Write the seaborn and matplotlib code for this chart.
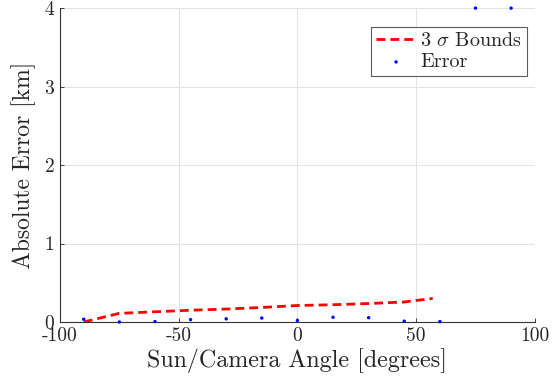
import numpy as np
import pandas as pd
import matplotlib
matplotlib.use("Agg")
import matplotlib.pyplot as plt
import seaborn as sns

# Sun/camera angle sweep and results
bound_angles = [-90, -75, -60, -45, -30, -15, 0, 15, 30, 45, 57]
bound_km = [0.0, 0.11, 0.13, 0.15, 0.165, 0.185, 0.21, 0.22, 0.235, 0.255, 0.30]

error_angles = [-90, -75, -60, -45, -30, -15, 0, 15, 30, 45, 60, 75, 90]
error_km = [0.035, 0.0, 0.005, 0.03, 0.04, 0.05, 0.02, 0.06, 0.055, 0.01, 0.005, 4.0, 4.0]

x_ticks = [-100, -50, 0, 50, 100]
x_tick_labels = ["-100", "-50", "0", "50", "100"]
y_ticks = [0, 1, 2, 3, 4]

sns.set_style("white")
plt.rcParams["font.family"] = ["cmr10", "DejaVu Serif"]
plt.rcParams["mathtext.fontset"] = "cm"
plt.rcParams["axes.unicode_minus"] = False

bounds = pd.DataFrame({"angle": bound_angles, "err": bound_km})
errors = pd.DataFrame({"angle": error_angles, "err": error_km})

fig = plt.figure(figsize=(5.58, 3.87), dpi=100)
ax = fig.add_axes([0.1075, 0.168, 0.851, 0.811])

sns.lineplot(data=bounds, x="angle", y="err", ax=ax, color="#ff0000",
             linestyle=(0, (3.2, 1.8)), linewidth=2.0, label=r"3 $\sigma$ Bounds")
sns.scatterplot(data=errors, x="angle", y="err", ax=ax, color="#0000ff",
                s=6, marker="o", edgecolor="none", label="Error", clip_on=False,
                zorder=5)

ax.set_xlim(-100, 100)
ax.set_ylim(0, 4)
ax.set_xticks(x_ticks)
ax.set_xticklabels(x_tick_labels)
ax.set_yticks(y_ticks)
ax.set_yticklabels([str(v) for v in y_ticks])
ax.grid(True, color="#e3e3e3", linewidth=0.8)
ax.set_axisbelow(True)

for side in ["top", "right"]:
    ax.spines[side].set_visible(False)
for side in ["left", "bottom"]:
    ax.spines[side].set_color("#333333")
    ax.spines[side].set_linewidth(0.8)

ax.tick_params(axis="both", direction="in", length=3, width=0.6,
               colors="#262626", labelsize=14, pad=4)
ax.tick_params(left=True, bottom=True)

ax.set_xlabel("Sun/Camera Angle [degrees]", fontsize=17.3, color="#262626", labelpad=2)
ax.set_ylabel("Absolute Error [km]", fontsize=17, color="#262626", labelpad=6)

leg = ax.legend(loc="upper right", bbox_to_anchor=(0.984, 0.94), fontsize=14.5,
                frameon=True, fancybox=False, handlelength=2.0, handletextpad=0.2,
                borderpad=0.25, labelspacing=0.15, borderaxespad=0.0,
                markerscale=1.0)
leg.get_frame().set_edgecolor("#333333")
leg.get_frame().set_linewidth(0.8)

fig.savefig("out.png", dpi=100)
